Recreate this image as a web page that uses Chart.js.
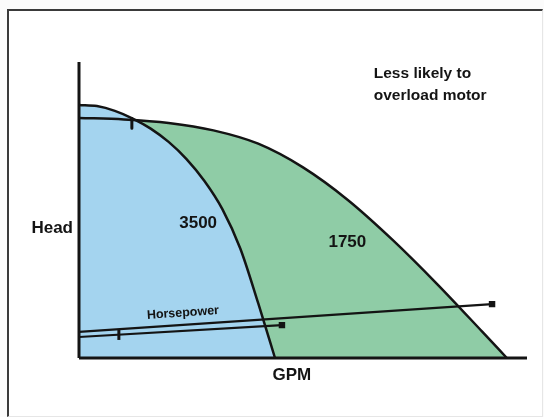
<!DOCTYPE html>
<html>
<head>
<meta charset="utf-8">
<script src="https://cdn.jsdelivr.net/npm/chart.js@4.4.1/dist/chart.umd.min.js"></script>
<style>
  html, body { margin: 0; padding: 0; background: #ffffff; }
  #wrap { position: relative; width: 544px; height: 417px; overflow: hidden; background: #fbfbfb; }
  #frame { position: absolute; left: 7px; top: 9px; right: 1px; bottom: 0px;
           border-top: 2px solid #3a3a3a; border-left: 2px solid #3a3a3a;
           border-right: 1px solid #e6e6e6; border-bottom: 1px solid #e6e6e6; background: #ffffff; }
  canvas { position: absolute; left: 0; top: 0; }
</style>
</head>
<body>
<div id="wrap">
  <div id="frame"></div>
  <canvas id="c" width="544" height="417"></canvas>
</div>
<script>
// ---- data (GPM on x, Head on y, both in relative units 0..100) ----
const gpm3500  = [0, 4, 8, 12, 16, 20, 24, 28, 32, 36, 40, 43.75];
const head3500 = [85.5, 85.1, 83.5, 80.9, 77.5, 73.0, 67.2, 59.8, 50.3, 37.0, 18.5, 0];

const gpm1750  = [0, 10, 20, 30, 40, 50, 60, 70, 80, 90, 95.5];
const head1750 = [81.1, 80.6, 79.4, 76.9, 72.4, 64.4, 53.4, 39.9, 24.9, 8.9, 0];

const hpLongGpm   = [0, 92.2];
const hpLongVal   = [8.8, 18.2];
const hpShortGpm  = [0, 45.3];
const hpShortVal  = [7.1, 11.1];

const tickHpGpm   = [8.9, 8.9];
const tickHpVal   = [6.1, 9.5];
const tickTopGpm  = [11.8, 11.8];
const tickTopVal  = [80.9, 77.6];

const axisXGpm = [0, 100];
const axisXVal = [0, 0];
const axisYGpm = [0, 0];
const axisYVal = [0, 100];

const labelTexts = ['Head', '3500', '1750', 'GPM', 'Horsepower', 'Less likely to', 'overload motor'];

// ---- presentation ----
const labelLayout = [
  { x: -1.34, y: 42.2, align: 'right',  base: 'alphabetic', font: 'bold 17px "Liberation Sans", Arial, sans-serif', rot: 0 },
  { x: 26.6,  y: 43.9, align: 'center', base: 'alphabetic', font: 'bold 17px "Liberation Sans", Arial, sans-serif', rot: 0 },
  { x: 59.9,  y: 37.5, align: 'center', base: 'alphabetic', font: 'bold 17px "Liberation Sans", Arial, sans-serif', rot: 0 },
  { x: 47.5,  y: -7.4, align: 'center', base: 'alphabetic', font: 'bold 17px "Liberation Sans", Arial, sans-serif', rot: 0 },
  { x: 23.2,  y: 15.2, align: 'center', base: 'middle',     font: 'bold 12.5px "Liberation Sans", Arial, sans-serif', rot: -4 },
  { x: 65.8,  y: 94.6, align: 'left',   base: 'alphabetic', font: 'bold 15.5px "Liberation Sans", Arial, sans-serif', rot: 0 },
  { x: 65.8,  y: 87.2, align: 'left',   base: 'alphabetic', font: 'bold 15.5px "Liberation Sans", Arial, sans-serif', rot: 0 }
];

const pts = (xs, ys) => xs.map((x, i) => ({ x: x, y: ys[i] }));
const INK = '#141414';
const BLUE = '#a4d4ef';
const GREEN = '#8fcca6';

const lastOnly = (r) => (ctx) => (ctx.dataIndex === ctx.dataset.data.length - 1 ? r : 0);

const textPlugin = {
  id: 'textLabels',
  afterDatasetsDraw(chart) {
    const { ctx, scales } = chart;
    ctx.save();
    ctx.fillStyle = INK;
    labelTexts.forEach((t, i) => {
      const L = labelLayout[i];
      const px = scales.x.getPixelForValue(L.x);
      const py = scales.y.getPixelForValue(L.y);
      ctx.save();
      ctx.translate(px, py);
      ctx.rotate(L.rot * Math.PI / 180);
      ctx.font = L.font;
      ctx.textAlign = L.align;
      ctx.textBaseline = L.base;
      ctx.fillText(t, 0, 0);
      ctx.restore();
    });
    ctx.restore();
  }
};

new Chart(document.getElementById('c'), {
  type: 'scatter',
  data: {
    datasets: [
      { label: '3500', data: pts(gpm3500, head3500), showLine: true, fill: 'origin',
        backgroundColor: BLUE, borderColor: INK, borderWidth: 2.5, pointRadius: 0,
        cubicInterpolationMode: 'monotone', clip: false },
      { label: '1750', data: pts(gpm1750, head1750), showLine: true, fill: 'origin',
        backgroundColor: GREEN, borderColor: INK, borderWidth: 2.5, pointRadius: 0,
        cubicInterpolationMode: 'monotone', clip: false },
      { label: 'HP long', data: pts(hpLongGpm, hpLongVal), showLine: true, fill: false,
        borderColor: INK, borderWidth: 2.2, pointStyle: 'rect', pointRadius: lastOnly(3),
        pointBackgroundColor: INK, pointBorderColor: INK, clip: false },
      { label: 'HP short', data: pts(hpShortGpm, hpShortVal), showLine: true, fill: false,
        borderColor: INK, borderWidth: 2.2, pointStyle: 'rect', pointRadius: lastOnly(3),
        pointBackgroundColor: INK, pointBorderColor: INK, clip: false },
      { label: 'tick hp', data: pts(tickHpGpm, tickHpVal), showLine: true, fill: false,
        borderColor: INK, borderWidth: 3, pointRadius: 0, clip: false },
      { label: 'tick top', data: pts(tickTopGpm, tickTopVal), showLine: true, fill: false,
        borderColor: INK, borderWidth: 3, pointRadius: 0, clip: false },
      { label: 'x axis', data: pts(axisXGpm, axisXVal), showLine: true, fill: false,
        borderColor: INK, borderWidth: 3, pointRadius: 0, clip: false },
      { label: 'y axis', data: pts(axisYGpm, axisYVal), showLine: true, fill: false,
        borderColor: INK, borderWidth: 3, pointRadius: 0, clip: false }
    ]
  },
  options: {
    responsive: false,
    animation: false,
    layout: { padding: { left: 79, right: 17, top: 62, bottom: 59 } },
    scales: {
      x: { type: 'linear', min: 0, max: 100, display: false },
      y: { type: 'linear', min: 0, max: 100, display: false }
    },
    plugins: {
      legend: { display: false },
      tooltip: { enabled: false },
      filler: { drawTime: 'beforeDatasetsDraw' }
    },
    elements: { line: { borderCapStyle: 'butt', borderJoinStyle: 'round' } }
  },
  plugins: [textPlugin]
});
</script>
</body>
</html>
